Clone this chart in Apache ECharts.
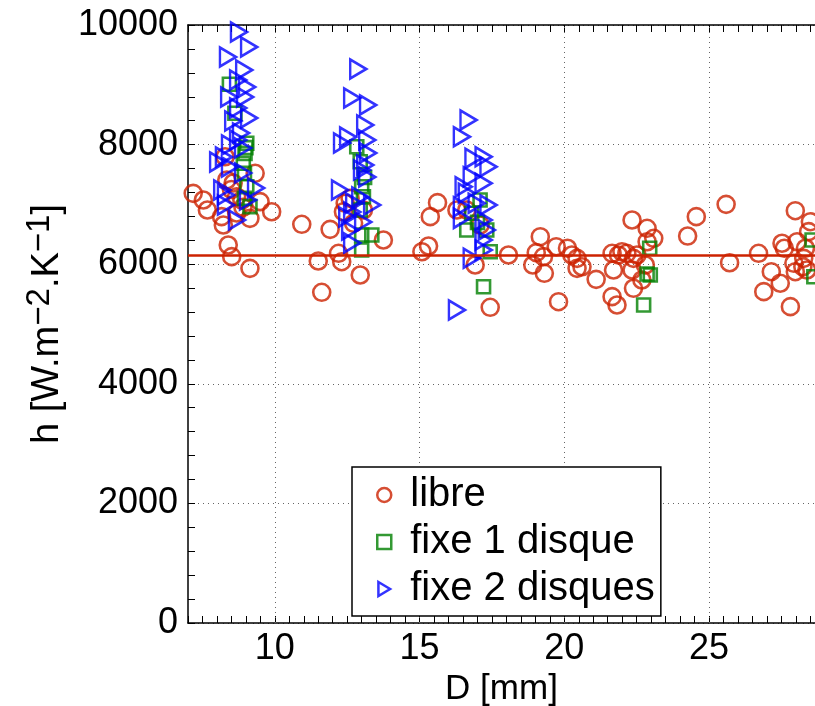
<!DOCTYPE html>
<html><head><meta charset="utf-8">
<script src="https://cdn.jsdelivr.net/npm/echarts@6/dist/echarts.min.js"></script>
<style>html,body{margin:0;padding:0;background:#fff}#c{width:815px;height:706px}</style>
</head><body><div id="c"></div>
<script>
// libre (red circles)
const libreD = [7.18,7.53,7.67,8.16,8.22,8.39,8.51,9.14,9.32,9.14,9.49,9.89,8.28,8.56,8.68,8.86,8.68,8.34,8.50,8.90,
  10.93,11.91,11.62,11.50,12.20,12.31,
  12.95,12.43,12.37,13.75,13.06,12.72,12.60,
  15.37,15.62,15.08,15.31,16.29,18.07,16.92,17.44,16.63,17.09,
  19.17,19.03,19.28,18.91,19.31,19.72,20.11,20.26,20.44,20.44,20.61,19.80,21.10,21.70,21.65,21.82,21.87,22.16,22.34,22.86,22.86,23.09,22.39,22.51,22.34,22.80,22.68,22.39,21.99,21.65,
  24.56,24.26,25.59,25.71,26.71,26.89,27.15,27.46,27.81,27.98,27.52,27.60,28.04,28.33,27.93,27.98,28.27,28.44,28.50,28.24,28.38];
const libreH = [7185,7074,6906,6795,6656,6321,6126,5931,7520,6767,7046,6878,7797,7358,7129,7074,6856,7408,7250,6950,
  6667,6583,5530,6054,6182,6042,
  5819,7018,6878,6405,6906,6684,7100,
  6795,7029,6209,6304,6906,6154,5987,5279,6906,6656,
  6460,6193,6126,5987,5848,6293,6266,6154,6098,5931,5958,5373,5747,5903,5457,5318,6154,6182,6739,6600,6376,6433,6098,6154,5903,5987,5736,5597,6209,6182,
  6795,6471,7001,6025,6182,5541,5875,5681,5290,6895,6350,6266,6376,6266,6015,5875,6098,6544,6711,5958,5903];
// fixe 1 disque (green squares)
const fixe1D = [8.43,8.62,9.03,8.97,8.91,8.95,9.03,9.14,9.00,8.95,
  12.83,12.95,13.00,13.06,12.95,13.00,13.35,13.00,13.10,
  16.63,17.32,17.44,17.21,16.80,17.09,17.00,
  22.95,22.86,22.97,22.74,
  28.56,28.62];
const fixe1H = [9008,8523,8022,7854,7687,7520,7296,6962,7950,7100,
  7965,7714,7296,7129,6906,6488,6488,6237,7450,
  6572,6572,6209,5624,6851,7074,6700,
  6266,5836,5819,5318,
  6405,5791];
// fixe 2 disques (blue triangles)
const fixe2D = [8.76,9.11,8.38,8.94,8.73,9.04,8.42,8.97,8.73,8.56,9.11,8.83,8.73,8.45,8.90,8.04,8.24,8.45,8.90,8.18,8.31,9.35,9.07,8.31,8.69,
  12.88,12.67,13.22,13.12,12.53,12.32,13.19,13.22,13.12,13.19,13.01,12.25,13.36,12.95,12.67,12.50,13.05,12.60,12.67,12.74,
  16.69,16.46,16.86,17.21,17.38,16.80,17.21,16.52,16.63,17.38,16.46,16.97,17.21,16.46,17.32,17.21,16.80,17.21,16.29];
const fixe2H = [9883,9632,9465,9247,9080,8963,8796,8796,8612,8395,8445,8194,8077,7993,7943,7709,7793,7625,7525,7241,7157,7274,7074,6990,6739,
  9264,8779,8662,8328,8127,8027,8077,7860,7659,7458,7575,7241,6990,7124,6873,6789,6706,6572,6355,7023,
  8411,8132,7770,7798,7630,7463,7353,7296,7186,6990,6962,7018,6739,6767,6572,6405,6099,6237,5234];
const hMean = 6150;
const xTickLabels = [10, 15, 20, 25];
const yTickLabels = [0, 2000, 4000, 6000, 8000, 10000];
const seriesNames = ['libre', 'fixe 1 disque', 'fixe 2 disques'];

const FONT = '"Liberation Sans", Arial, Helvetica, sans-serif';
const RED = '#cc2200', GREEN = '#008000', BLUE = '#0000ff';
const TRI = 'path://M0,0L10,6L0,12Z';
const pairs = (xs, ys) => xs.map((x, i) => [x, ys[i]]);
const isMajorX = v => Math.abs(v - Math.round(v)) < 1e-6 && xTickLabels.includes(Math.round(v));
const gridDot = {type: [1, 4], color: '#666', width: 1};

const chart = echarts.init(document.getElementById('c'));
const xCommon = {
  type: 'value', min: 7, max: 28.66, interval: 1,
  axisLine: {show: true, onZero: false, lineStyle: {color: '#000', width: 1.5}},
  axisTick: {show: true, inside: true, length: 7, lineStyle: {color: '#000', width: 1}},
  minorTick: {show: true, splitNumber: 2, length: 7, lineStyle: {color: '#000', width: 1}},
  splitLine: {show: false}
};
chart.setOption({
  animation: false,
  backgroundColor: '#fff',
  grid: {left: 188, top: 25, right: 0, bottom: 83, containLabel: false, outerBoundsMode: 'none'},
  xAxis: [
    Object.assign({}, xCommon, {
      position: 'bottom',
      axisLabel: {formatter: v => isMajorX(v) ? String(Math.round(v)) : '', fontSize: 36, color: '#000', fontFamily: FONT, margin: 8, showMinLabel: false, showMaxLabel: false},
      name: 'D [mm]', nameLocation: 'middle', nameGap: 47,
      nameTextStyle: {fontSize: 35, color: '#000', fontFamily: FONT}
    }),
    Object.assign({}, xCommon, {position: 'top', axisLabel: {show: false}})
  ],
  yAxis: {
    type: 'value', min: 0, max: 10000, interval: 2000,
    axisLine: {show: true, lineStyle: {color: '#000', width: 1.5}},
    axisTick: {show: true, inside: true, length: 7, lineStyle: {color: '#000', width: 1}},
    minorTick: {show: true, splitNumber: 5, length: 7, lineStyle: {color: '#000', width: 1}},
    splitLine: {show: true, lineStyle: gridDot},
    axisLabel: {fontSize: 36, color: '#000', fontFamily: FONT, margin: 10,
      formatter: v => yTickLabels.includes(v) ? String(v) : ''},
    name: '{a|h [W.m}{s|−2}{a|.K}{s|−1}{a|]}', nameLocation: 'middle', nameRotate: 90, nameGap: 114,
    nameTextStyle: {fontSize: 38, color: '#000', fontFamily: FONT,
      rich: {a: {fontSize: 38, color: '#000', fontFamily: FONT, lineHeight: 50},
             s: {fontSize: 33, color: '#000', fontFamily: FONT, lineHeight: 28, verticalAlign: 'top'}}}
  },
  legend: {
    left: 352, top: 467, orient: 'vertical', backgroundColor: '#fff',
    borderColor: '#000', borderWidth: 1.5, borderRadius: 0,
    padding: [8, 6, 7, 24], itemGap: 7, itemWidth: 14, itemHeight: 14,
    textStyle: {fontSize: 40, fontFamily: FONT, color: '#000', lineHeight: 40, padding: [0, 0, 0, 14]},
    selectedMode: false,
    data: [
      {name: seriesNames[0], icon: 'circle', itemStyle: {color: 'rgba(0,0,0,0)', borderColor: RED, borderWidth: 2.5}},
      {name: seriesNames[1], icon: 'rect', itemStyle: {color: 'rgba(0,0,0,0)', borderColor: GREEN, borderWidth: 2.5}},
      {name: seriesNames[2], icon: TRI, itemStyle: {color: 'rgba(0,0,0,0)', borderColor: BLUE, borderWidth: 2.5}}
    ]
  },
  series: [
    {name: '_grid', type: 'scatter', data: [], silent: true, z: 1,
      markLine: {silent: true, symbol: 'none', z: 1, label: {show: false}, lineStyle: gridDot,
        data: xTickLabels.map(v => ({xAxis: v}))}},
    {name: seriesNames[0], type: 'scatter', data: pairs(libreD, libreH),
      symbol: 'circle', symbolSize: 17,
      itemStyle: {color: 'rgba(0,0,0,0)', borderColor: RED, borderWidth: 2.6}},
    {name: seriesNames[1], type: 'scatter', data: pairs(fixe1D, fixe1H),
      symbol: 'rect', symbolSize: 13,
      itemStyle: {color: 'rgba(0,0,0,0)', borderColor: GREEN, borderWidth: 2.6}},
    {name: seriesNames[2], type: 'scatter', data: pairs(fixe2D, fixe2H),
      symbol: TRI, symbolSize: [16, 19],
      itemStyle: {color: 'rgba(0,0,0,0)', borderColor: BLUE, borderWidth: 2.6}},
    {name: '_mean', type: 'scatter', data: [], silent: true, z: 2,
      markLine: {silent: true, symbol: 'none', label: {show: false},
        lineStyle: {color: RED, width: 2.5, type: 'solid'}, data: [{yAxis: hMean}]}}
  ]
});
</script></body></html>
